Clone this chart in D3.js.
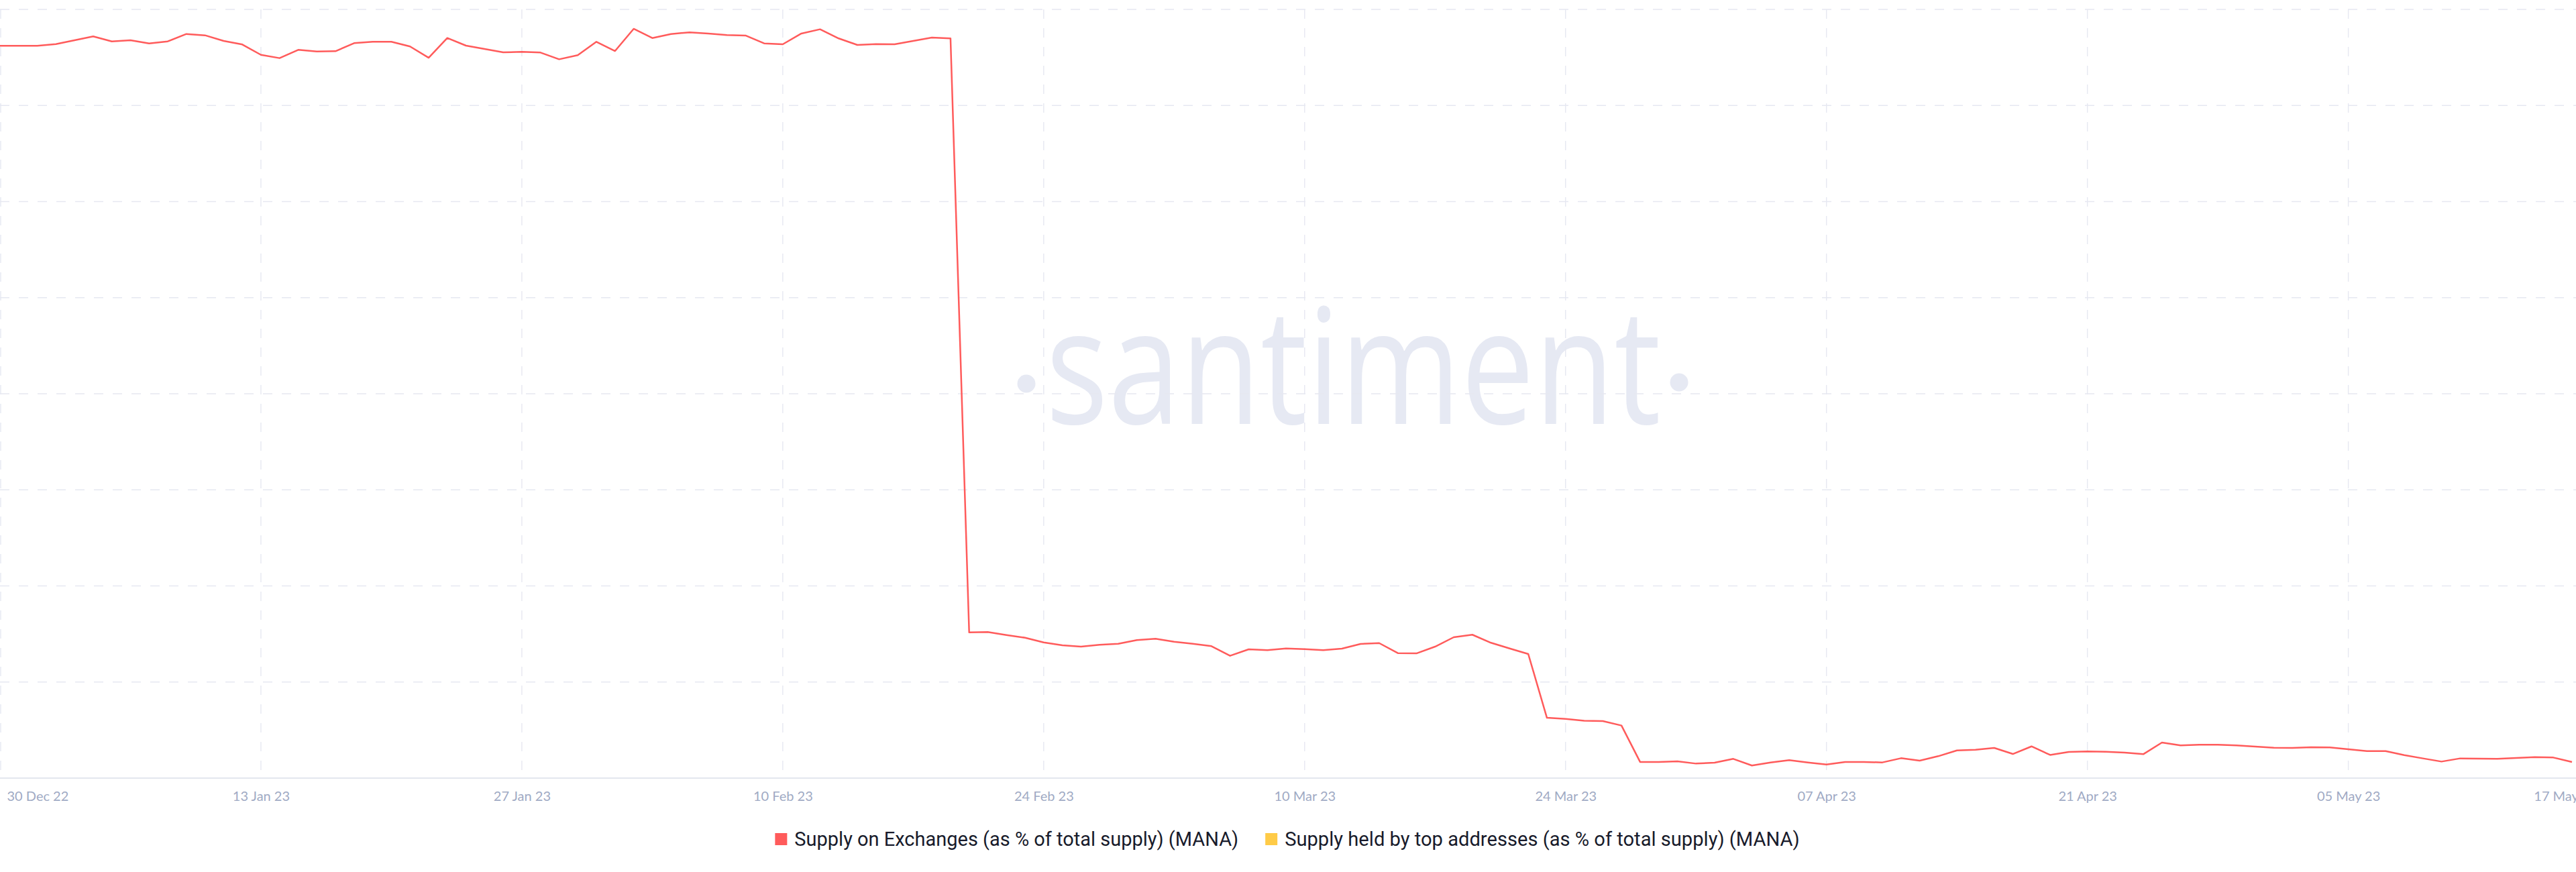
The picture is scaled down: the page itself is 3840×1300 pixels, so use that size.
<!DOCTYPE html>
<html><head><meta charset="utf-8">
<script src="https://cdn.jsdelivr.net/npm/d3@7/dist/d3.min.js"></script>
<style>
html,body{margin:0;padding:0;background:#fff;}
svg{display:block;}
</style></head><body>
<svg id="chart" width="3840" height="1300"></svg>
<script>
// ---- data ----
const startDate = "2022-12-30";
const endDate = "2023-05-17";
const supplyOnExchanges = [
  11.621, 11.621, 11.621, 11.639, 11.679, 11.719, 11.667, 11.679, 11.646, 11.667,
  11.744, 11.730, 11.672, 11.635, 11.527, 11.493, 11.579, 11.562, 11.565, 11.649,
  11.663, 11.663, 11.614, 11.497, 11.702, 11.623, 11.588, 11.553, 11.558, 11.551,
  11.481, 11.523, 11.663, 11.567, 11.798, 11.702, 11.744, 11.761, 11.749, 11.733,
  11.728, 11.646, 11.637, 11.749, 11.793, 11.698, 11.630, 11.639, 11.637, 11.672,
  11.707, 11.698, 5.517, 5.520, 5.489, 5.461, 5.412, 5.382, 5.368, 5.387,
  5.398, 5.436, 5.450, 5.419, 5.398, 5.373, 5.273, 5.340, 5.331, 5.349,
  5.342, 5.331, 5.347, 5.396, 5.405, 5.301, 5.298, 5.368, 5.466, 5.492,
  5.408, 5.349, 5.291, 4.628, 4.616, 4.597, 4.593, 4.547, 4.168, 4.168,
  4.175, 4.151, 4.161, 4.200, 4.131, 4.163, 4.186, 4.163, 4.142, 4.168,
  4.168, 4.163, 4.207, 4.182, 4.228, 4.288, 4.295, 4.314, 4.251, 4.330,
  4.241, 4.272, 4.277, 4.274, 4.265, 4.249, 4.370, 4.340, 4.347, 4.347,
  4.340, 4.328, 4.316, 4.314, 4.321, 4.319, 4.300, 4.281, 4.281, 4.239,
  4.205, 4.172, 4.205, 4.202, 4.200, 4.209, 4.218, 4.214, 4.168
];
const tickDates = ["2022-12-30","2023-01-13","2023-01-27","2023-02-10","2023-02-24","2023-03-10","2023-03-24","2023-04-07","2023-04-21","2023-05-05","2023-05-17"];
const tickLabels = ["30 Dec 22","13 Jan 23","27 Jan 23","10 Feb 23","24 Feb 23","10 Mar 23","24 Mar 23","07 Apr 23","21 Apr 23","05 May 23","17 May 23"];
const gridValues = [4, 5, 6, 7, 8, 9, 10, 11, 12];
const seriesNames = ["Supply on Exchanges (as % of total supply) (MANA)", "Supply held by top addresses (as % of total supply) (MANA)"];
const seriesColors = ["#ff5b5b", "#ffcb47"];

// ---- layout ----
const parse = d3.utcParse("%Y-%m-%d");
const t0 = parse(startDate), t1 = parse(endDate);
const dates = d3.utcDay.range(t0, d3.utcDay.offset(t1, 1));
const data = dates.map((d, i) => ({date: d, value: supplyOnExchanges[i]}));

const svg = d3.select("#chart");
const x = d3.scaleUtc().domain([t0, t1]).range([0, 3834]);
const y = d3.scaleLinear().domain([4, 12]).range([1160, 14]);

const gridColor = "#e6e8f1";

// watermark
const wm = svg.append("g").attr("fill", "#e6e9f3");
wm.append("text")
  .attr("x", 1559).attr("y", 632)
  .attr("font-family", "Open Sans")
  .attr("font-size", 240)
  .attr("textLength", 917)
  .attr("lengthAdjust", "spacingAndGlyphs")
  .text("santiment");
wm.append("circle").attr("cx", 1530).attr("cy", 572).attr("r", 13.5);
wm.append("circle").attr("cx", 2503).attr("cy", 570).attr("r", 13.5);

// horizontal grid
svg.append("g").selectAll("line").data(gridValues.slice(1)).join("line")
  .attr("x1", 0).attr("x2", 3840)
  .attr("y1", d => y(d)).attr("y2", d => y(d))
  .attr("stroke", gridColor).attr("stroke-width", 1.4)
  .attr("stroke-dasharray", "14,14");

// vertical grid
const gridDates = tickDates.slice(0, tickDates.length - 1).map(parse);
svg.append("g").selectAll("line").data(gridDates).join("line")
  .attr("x1", d => Math.max(1, x(d))).attr("x2", d => Math.max(1, x(d)))
  .attr("y1", 14).attr("y2", 1158)
  .attr("stroke", gridColor).attr("stroke-width", 1.4)
  .attr("stroke-dasharray", "14,14");

// x axis
const xAxis = d3.axisBottom(x)
  .tickValues(tickDates.map(parse))
  .tickFormat((d, i) => tickLabels[i])
  .tickSize(0).tickPadding(20);
const ax = svg.append("g").attr("transform", "translate(0,1160)").call(xAxis);
ax.select(".domain").remove();
const nT = tickLabels.length;
ax.selectAll("text")
  .attr("font-family", "Lato").attr("font-size", 20)
  .attr("fill", "#9faac4")
  .attr("text-anchor", (d, i) => i === 0 ? "start" : "middle")
  .attr("x", (d, i) => i === 0 ? 10 : (i === nT - 1 ? -10 : 0));
svg.append("line").attr("x1", 0).attr("x2", 3840).attr("y1", 1160).attr("y2", 1160)
  .attr("stroke", "#e3e6ee").attr("stroke-width", 2);

// line
const line = d3.line().x(d => x(d.date)).y(d => y(d.value)).curve(d3.curveLinear);
svg.append("path").datum(data)
  .attr("fill", "none").attr("stroke", seriesColors[0])
  .attr("stroke-width", 2.5).attr("stroke-linejoin", "round")
  .attr("d", line);

// legend
const targetW = [662, 768];
const leg = svg.append("g");
const items = leg.selectAll("g").data(seriesNames).join("g");
items.append("rect").attr("width", 18).attr("height", 18).attr("y", -9)
  .attr("fill", (d, i) => seriesColors[i]);
items.append("text").attr("x", 29).attr("y", 0).attr("dy", "0.35em")
  .attr("font-family", "Roboto").attr("font-size", 26).attr("fill", "#181b2b")
  .text(d => d);
const widths = [];
items.each(function(d, i) {
  const t = this.querySelector("text");
  const w0 = t.getComputedTextLength();
  const fs = Math.max(22, Math.min(30, 26 * targetW[i] / w0));
  t.setAttribute("font-size", fs);
  widths.push(29 + t.getComputedTextLength());
});
const total = widths[0] + 40 + widths[1];
const start = 1919 - total / 2;
items.attr("transform", (d, i) => `translate(${start + (i === 0 ? 0 : widths[0] + 40)},1251)`);
</script>
</body></html>
